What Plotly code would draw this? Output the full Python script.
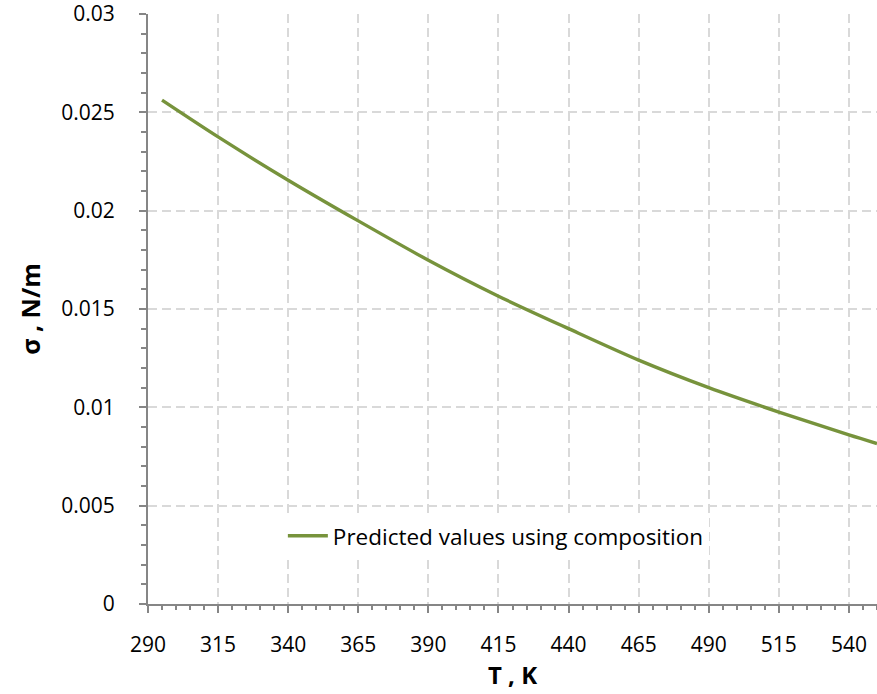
import plotly.graph_objects as go

# Surface tension vs temperature
temperature_K = [295, 315, 340, 365, 390, 415, 440, 465, 490, 515, 540, 550]
sigma_N_per_m = [0.02562, 0.02375, 0.02155, 0.01948, 0.01748, 0.01565, 0.01400,
                 0.01240, 0.01100, 0.00976, 0.00860, 0.00816]

x_ticks = [290, 315, 340, 365, 390, 415, 440, 465, 490, 515, 540]
y_ticks = [0, 0.005, 0.01, 0.015, 0.02, 0.025, 0.03]
y_tick_labels = ["0", "0.005", "0.01", "0.015", "0.02", "0.025", "0.03"]

FONT = "Open Sans"
AXIS_COLOR = "#868686"
GRID_COLOR = "#d9d9d9"

fig = go.Figure()
fig.add_trace(go.Scatter(
    x=temperature_K,
    y=sigma_N_per_m,
    mode="lines",
    line=dict(color="#77933C", width=3.4, shape="spline", smoothing=0.8),
    name="Predicted values using composition",
))

axis_common = dict(
    showline=True,
    linecolor=AXIS_COLOR,
    linewidth=2,
    ticks="outside",
    tickcolor=AXIS_COLOR,
    tickwidth=1.5,
    ticklen=7,
    showgrid=True,
    gridcolor=GRID_COLOR,
    gridwidth=1.5,
    griddash="9px,5px",
    zeroline=False,
    ticklabeloverflow="allow",
    tickfont=dict(family=FONT, size=21, color="#000000"),
)

fig.update_xaxes(
    range=[290, 550],
    tickvals=x_ticks,
    ticklabelstandoff=14,
    minor=dict(dtick=5, tick0=290, ticks="outside", ticklen=4,
               tickcolor=AXIS_COLOR, tickwidth=1.5, showgrid=False),
    title=dict(text="<b>T , K</b>", font=dict(family=FONT, size=24, color="#000000"),
               standoff=2),
    **axis_common,
)
fig.update_yaxes(
    range=[0, 0.03],
    tickvals=y_ticks,
    ticktext=y_tick_labels,
    ticklabelstandoff=20,
    minor=dict(dtick=0.001, tick0=0, ticks="outside", ticklen=5,
               tickcolor=AXIS_COLOR, tickwidth=1.5, showgrid=False),
    title=dict(text="<b>σ , N/m</b>", font=dict(family=FONT, size=25, color="#000000"),
               standoff=14),
    **axis_common,
)

fig.update_layout(
    width=877,
    height=694,
    margin=dict(l=148, r=0, t=14, b=90),
    paper_bgcolor="white",
    plot_bgcolor="white",
    showlegend=True,
    legend=dict(
        x=0.185, y=0.115, xanchor="left", yanchor="middle",
        bgcolor="white",
        font=dict(family=FONT, size=22.5, color="#000000"),
        itemwidth=40,
    ),
)

fig.write_html("out.html")
